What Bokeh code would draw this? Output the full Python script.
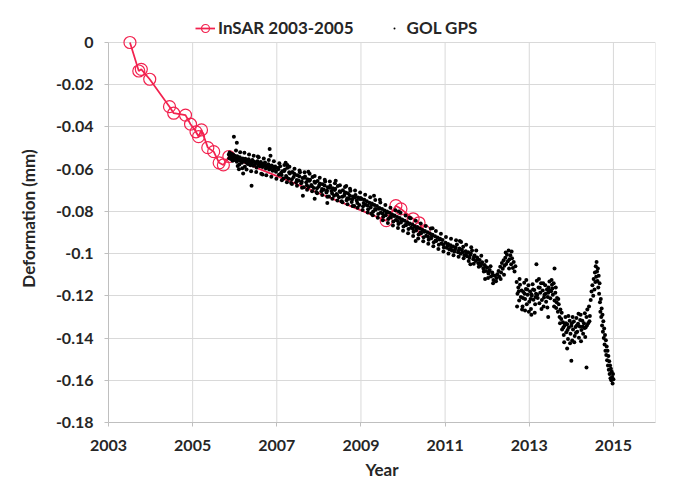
from bokeh.plotting import figure
from bokeh.models import FixedTicker, Legend, LegendItem
from bokeh.embed import file_html
from bokeh.resources import INLINE

# ---------------- data ----------------
insar_year = [2003.51, 2003.72, 2003.78, 2003.98, 2004.45, 2004.55, 2004.83, 2004.95,
              2005.08, 2005.14, 2005.21, 2005.36, 2005.50, 2005.63, 2005.73, 2005.86,
              2009.60, 2009.83, 2009.95, 2010.24, 2010.38, 2010.50]
insar_def = [0.0, -0.0135, -0.0127, -0.0174, -0.0304, -0.0335, -0.0344, -0.0387,
             -0.0423, -0.0446, -0.0414, -0.0498, -0.0517, -0.0570, -0.0580, -0.0540,
             -0.0844, -0.0773, -0.0788, -0.0835, -0.0854, -0.0892]

gps_2006 = [
    (2005.86, -0.0530), (2005.87, -0.0548), (2005.88, -0.0521), (2005.89, -0.0541), (2005.90, -0.0535),
    (2005.91, -0.0552), (2005.92, -0.0527), (2005.93, -0.0545), (2005.94, -0.0538), (2005.95, -0.0560),
    (2005.96, -0.0531), (2005.97, -0.0549), (2005.98, -0.0542), (2005.99, -0.0556), (2006.00, -0.0536),
    (2006.02, -0.0551), (2006.03, -0.0544), (2006.05, -0.0565), (2006.06, -0.0539), (2006.08, -0.0557),
    (2006.09, -0.0548), (2006.11, -0.0578), (2006.12, -0.0543), (2006.14, -0.0561), (2006.15, -0.0552),
    (2006.17, -0.0570), (2006.19, -0.0549), (2006.20, -0.0563), (2006.22, -0.0556), (2006.24, -0.0588),
    (2006.25, -0.0551), (2006.27, -0.0569), (2006.29, -0.0560), (2006.31, -0.0575), (2006.33, -0.0553),
    (2006.35, -0.0566), (2006.37, -0.0581), (2006.38, -0.0562), (2006.40, -0.0571), (2006.42, -0.0556),
    (2006.44, -0.0584), (2006.46, -0.0565), (2006.48, -0.0577), (2006.50, -0.0568), (2006.52, -0.0592),
    (2006.54, -0.0562), (2006.56, -0.0580), (2006.58, -0.0573), (2006.60, -0.0586), (2006.62, -0.0566),
    (2006.64, -0.0579), (2006.66, -0.0590), (2006.68, -0.0574), (2006.70, -0.0584), (2006.72, -0.0569),
    (2006.74, -0.0597), (2006.76, -0.0581), (2006.78, -0.0590), (2006.80, -0.0577), (2006.82, -0.0602),
    (2006.84, -0.0586), (2006.86, -0.0595), (2006.88, -0.0583), (2006.90, -0.0608), (2006.92, -0.0590),
    (2006.94, -0.0599), (2006.96, -0.0587), (2006.98, -0.0612),
    (2005.98, -0.0447), (2006.05, -0.0475), (2006.83, -0.0504), (2006.85, -0.0536), (2006.40, -0.0679),
    (2006.10, -0.0600), (2006.20, -0.0620), (2006.55, -0.0540), (2006.66, -0.0625),
    (2006.03, -0.0512), (2006.07, -0.0585), (2006.13, -0.0520), (2006.18, -0.0596), (2006.23, -0.0522),
    (2006.28, -0.0601), (2006.34, -0.0530), (2006.39, -0.0610), (2006.45, -0.0536), (2006.51, -0.0614),
    (2006.57, -0.0543), (2006.63, -0.0622), (2006.69, -0.0549), (2006.75, -0.0629), (2006.81, -0.0557),
    (2006.87, -0.0636), (2006.93, -0.0563), (2006.99, -0.0645),
]

gps_2008 = [
    (2007.02, -0.0594), (2007.05, -0.0627), (2007.08, -0.0586), (2007.10, -0.0618), (2007.13, -0.0610),
    (2007.16, -0.0644), (2007.19, -0.0603), (2007.22, -0.0632), (2007.25, -0.0593), (2007.28, -0.0645),
    (2007.31, -0.0620), (2007.34, -0.0665), (2007.37, -0.0613), (2007.40, -0.0637), (2007.43, -0.0626),
    (2007.46, -0.0662), (2007.49, -0.0629), (2007.52, -0.0654), (2007.55, -0.0615), (2007.58, -0.0667),
    (2007.61, -0.0642), (2007.64, -0.0686), (2007.67, -0.0635), (2007.70, -0.0662), (2007.73, -0.0648),
    (2007.76, -0.0684), (2007.79, -0.0650), (2007.82, -0.0675), (2007.85, -0.0637), (2007.88, -0.0689),
    (2007.91, -0.0664), (2007.94, -0.0708), (2007.97, -0.0656), (2008.00, -0.0682), (2008.03, -0.0669),
    (2008.06, -0.0705), (2008.09, -0.0672), (2008.12, -0.0697), (2008.15, -0.0658), (2008.18, -0.0711),
    (2008.21, -0.0686), (2008.24, -0.0730), (2008.27, -0.0679), (2008.30, -0.0704), (2008.33, -0.0690),
    (2008.36, -0.0726), (2008.39, -0.0693), (2008.42, -0.0718), (2008.45, -0.0680), (2008.48, -0.0733),
    (2008.51, -0.0708), (2008.54, -0.0752), (2008.57, -0.0700), (2008.60, -0.0726), (2008.63, -0.0711),
    (2008.66, -0.0747), (2008.69, -0.0714), (2008.72, -0.0740), (2008.75, -0.0702), (2008.78, -0.0755),
    (2008.81, -0.0730), (2008.84, -0.0774), (2008.87, -0.0722), (2008.90, -0.0748), (2008.93, -0.0734),
    (2008.96, -0.0770), (2008.99, -0.0737),
    (2007.035, -0.0600), (2007.115, -0.0628), (2007.175, -0.0609), (2007.235, -0.0638), (2007.295, -0.0615),
    (2007.355, -0.0648), (2007.415, -0.0622), (2007.475, -0.0651), (2007.535, -0.0634), (2007.595, -0.0660),
    (2007.655, -0.0641), (2007.715, -0.0676), (2007.775, -0.0655), (2007.835, -0.0681), (2007.895, -0.0660),
    (2007.955, -0.0690), (2008.015, -0.0671), (2008.075, -0.0694), (2008.135, -0.0677), (2008.195, -0.0702),
    (2008.255, -0.0688), (2008.315, -0.0715), (2008.375, -0.0699), (2008.435, -0.0722), (2008.495, -0.0705),
    (2008.555, -0.0731), (2008.615, -0.0716), (2008.675, -0.0738), (2008.735, -0.0725), (2008.795, -0.0742),
    (2008.855, -0.0733), (2008.915, -0.0760), (2008.975, -0.0741),
    (2007.21, -0.0570), (2007.25, -0.0580), (2007.62, -0.0726), (2007.75, -0.0612), (2008.40, -0.0655),
    (2008.20, -0.0760), (2007.90, -0.0740), (2008.65, -0.0680),
    (2007.06, -0.0572), (2007.12, -0.0653), (2007.18, -0.0580), (2007.24, -0.0662), (2007.30, -0.0589),
    (2007.36, -0.0670), (2007.42, -0.0598), (2007.48, -0.0679), (2007.54, -0.0606), (2007.60, -0.0688),
    (2007.66, -0.0615), (2007.72, -0.0697), (2007.78, -0.0622), (2007.84, -0.0705), (2007.90, -0.0632),
    (2007.96, -0.0714), (2008.02, -0.0641), (2008.08, -0.0722), (2008.14, -0.0650), (2008.20, -0.0731),
    (2008.26, -0.0658), (2008.32, -0.0740), (2008.38, -0.0667), (2008.44, -0.0749), (2008.50, -0.0676),
    (2008.56, -0.0757), (2008.62, -0.0684), (2008.68, -0.0766), (2008.74, -0.0693), (2008.80, -0.0775),
    (2008.86, -0.0701), (2008.92, -0.0783), (2008.98, -0.0710),
]

gps_2010 = [
    (2009.02, -0.0741), (2009.05, -0.0776), (2009.08, -0.0745), (2009.11, -0.0768), (2009.14, -0.0752),
    (2009.17, -0.0790), (2009.20, -0.0759), (2009.23, -0.0781), (2009.26, -0.0763), (2009.29, -0.0801),
    (2009.32, -0.0770), (2009.35, -0.0792), (2009.38, -0.0775), (2009.41, -0.0812), (2009.44, -0.0784),
    (2009.47, -0.0806), (2009.50, -0.0789), (2009.53, -0.0825), (2009.56, -0.0796), (2009.59, -0.0818),
    (2009.62, -0.0800), (2009.65, -0.0836), (2009.68, -0.0807), (2009.71, -0.0829), (2009.74, -0.0815),
    (2009.77, -0.0848), (2009.80, -0.0820), (2009.83, -0.0841), (2009.86, -0.0826), (2009.89, -0.0860),
    (2009.92, -0.0831), (2009.95, -0.0853), (2009.98, -0.0839), (2010.01, -0.0872), (2010.04, -0.0844),
    (2010.07, -0.0866), (2010.10, -0.0851), (2010.13, -0.0884), (2010.16, -0.0857), (2010.19, -0.0878),
    (2010.22, -0.0862), (2010.25, -0.0897), (2010.28, -0.0870), (2010.31, -0.0890), (2010.34, -0.0874),
    (2010.37, -0.0909), (2010.40, -0.0881), (2010.43, -0.0903), (2010.46, -0.0888), (2010.49, -0.0922),
    (2010.52, -0.0893), (2010.55, -0.0915), (2010.58, -0.0899), (2010.61, -0.0934), (2010.64, -0.0905),
    (2010.67, -0.0927), (2010.70, -0.0911), (2010.73, -0.0946), (2010.76, -0.0918), (2010.79, -0.0940),
    (2010.82, -0.0924), (2010.85, -0.0958), (2010.88, -0.0930), (2010.91, -0.0952), (2010.94, -0.0936),
    (2010.97, -0.0971),
    (2009.065, -0.0760), (2009.155, -0.0772), (2009.245, -0.0770), (2009.335, -0.0789), (2009.425, -0.0788),
    (2009.515, -0.0810), (2009.605, -0.0805), (2009.695, -0.0826), (2009.785, -0.0822), (2009.875, -0.0845),
    (2009.965, -0.0842), (2010.055, -0.0865), (2010.145, -0.0860), (2010.235, -0.0882), (2010.325, -0.0879),
    (2010.415, -0.0900), (2010.505, -0.0897), (2010.595, -0.0920), (2010.685, -0.0915), (2010.775, -0.0938),
    (2010.865, -0.0933), (2010.955, -0.0957),
    (2009.45, -0.0745), (2009.90, -0.0800), (2010.30, -0.0940), (2010.70, -0.0880), (2010.15, -0.0830),
    (2009.25, -0.0810), (2009.31, -0.0726),
    (2009.04, -0.0793), (2009.10, -0.0721), (2009.16, -0.0805), (2009.22, -0.0733), (2009.28, -0.0818),
    (2009.34, -0.0746), (2009.40, -0.0830), (2009.46, -0.0758), (2009.52, -0.0842), (2009.58, -0.0770),
    (2009.64, -0.0855), (2009.70, -0.0783), (2009.76, -0.0867), (2009.82, -0.0795), (2009.88, -0.0879),
    (2009.94, -0.0807), (2010.00, -0.0892), (2010.06, -0.0820), (2010.12, -0.0904), (2010.18, -0.0832),
    (2010.24, -0.0916), (2010.30, -0.0844), (2010.36, -0.0928), (2010.42, -0.0857), (2010.48, -0.0941),
    (2010.54, -0.0869), (2010.60, -0.0953), (2010.66, -0.0881), (2010.72, -0.0965), (2010.78, -0.0893),
    (2010.84, -0.0978), (2010.90, -0.0906), (2010.96, -0.0990),
]

gps_2012 = [
    (2011.01, -0.0948), (2011.04, -0.0972), (2011.07, -0.0955), (2011.10, -0.0979), (2011.13, -0.0960),
    (2011.16, -0.0985), (2011.19, -0.0966), (2011.22, -0.0990), (2011.25, -0.0971), (2011.28, -0.0957),
    (2011.31, -0.0994), (2011.34, -0.0976), (2011.37, -0.1001), (2011.40, -0.0982), (2011.43, -0.0968),
    (2011.46, -0.1008), (2011.49, -0.0989), (2011.52, -0.1012), (2011.55, -0.0993), (2011.58, -0.1020),
    (2011.61, -0.1000), (2011.64, -0.0985), (2011.67, -0.1027), (2011.70, -0.1009), (2011.73, -0.1035),
    (2011.76, -0.1018), (2011.79, -0.1046), (2011.82, -0.1030), (2011.85, -0.1058), (2011.88, -0.1041),
    (2011.91, -0.1070), (2011.94, -0.1054), (2011.97, -0.1082), (2012.00, -0.1066), (2012.03, -0.1094),
    (2012.06, -0.1078), (2012.09, -0.1108), (2012.12, -0.1090), (2012.15, -0.1125), (2012.18, -0.1105),
    (2012.21, -0.1131), (2012.24, -0.1098), (2012.27, -0.1082), (2012.29, -0.1110), (2012.31, -0.1062),
    (2012.33, -0.1089), (2012.35, -0.1045), (2012.37, -0.1072), (2012.39, -0.1031), (2012.41, -0.1058),
    (2012.43, -0.1020), (2012.45, -0.1049), (2012.47, -0.1005), (2012.49, -0.1036), (2012.51, -0.0985),
    (2012.53, -0.1027), (2012.55, -0.1008), (2012.57, -0.1050), (2012.59, -0.1022), (2012.61, -0.1068),
    (2012.63, -0.1040), (2012.65, -0.1085), (2012.67, -0.1060),
    (2011.055, -0.0963), (2011.145, -0.0970), (2011.235, -0.0982), (2011.325, -0.0985), (2011.415, -0.0993),
    (2011.505, -0.0998), (2011.595, -0.1007), (2011.685, -0.1016), (2011.775, -0.1028), (2011.865, -0.1048),
    (2011.955, -0.1062), (2012.045, -0.1083), (2012.135, -0.1101), (2012.225, -0.1115),
    (2011.35, -0.0940), (2011.60, -0.1050), (2011.95, -0.1120), (2012.40, -0.1100),
    (2011.02, -0.0921), (2011.08, -0.1000), (2011.14, -0.0930), (2011.20, -0.1008), (2011.26, -0.0937),
    (2011.32, -0.1015), (2011.38, -0.0945), (2011.44, -0.1022), (2011.50, -0.0958), (2011.56, -0.1035),
    (2011.62, -0.0970), (2011.68, -0.1048), (2011.74, -0.0985), (2011.80, -0.1062), (2011.86, -0.1010),
    (2011.92, -0.1085), (2011.98, -0.1035), (2012.02, -0.1115), (2012.08, -0.1060), (2012.14, -0.1140),
    (2012.32, -0.1120), (2012.44, -0.0995), (2012.52, -0.1070), (2012.58, -0.0990),
]

gps_2013 = [
    (2012.70, -0.1135), (2012.72, -0.1190), (2012.74, -0.1160), (2012.76, -0.1222), (2012.78, -0.1148),
    (2012.80, -0.1205), (2012.82, -0.1175), (2012.84, -0.1250), (2012.86, -0.1182), (2012.88, -0.1138),
    (2012.90, -0.1215), (2012.92, -0.1168), (2012.94, -0.1240), (2012.96, -0.1195), (2012.98, -0.1150),
    (2013.00, -0.1228), (2013.02, -0.1180), (2013.04, -0.1262), (2013.06, -0.1200), (2013.08, -0.1145),
    (2013.10, -0.1218), (2013.12, -0.1172), (2013.14, -0.1240), (2013.16, -0.1190), (2013.18, -0.1128),
    (2013.20, -0.1210), (2013.22, -0.1160), (2013.24, -0.1235), (2013.26, -0.1185), (2013.28, -0.1140),
    (2013.30, -0.1220), (2013.32, -0.1175), (2013.34, -0.1250), (2013.36, -0.1195), (2013.38, -0.1150),
    (2013.40, -0.1228), (2013.42, -0.1170), (2013.44, -0.1205), (2013.46, -0.1160), (2013.48, -0.1132),
    (2013.50, -0.1212), (2013.52, -0.1178), (2013.54, -0.1148), (2013.56, -0.1195), (2013.58, -0.1140),
    (2013.60, -0.1222), (2013.62, -0.1185), (2013.64, -0.1258), (2013.66, -0.1210), (2013.68, -0.1275),
    (2013.70, -0.1240), (2013.72, -0.1300), (2013.74, -0.1265),
    (2012.75, -0.1178), (2012.85, -0.1210), (2012.95, -0.1170), (2013.05, -0.1192), (2013.15, -0.1205),
    (2013.25, -0.1162), (2013.35, -0.1208), (2013.45, -0.1185), (2013.55, -0.1165), (2013.65, -0.1230),
    (2013.17, -0.1050), (2013.05, -0.1290), (2013.45, -0.1300), (2012.90, -0.1270), (2013.60, -0.1070),
    (2012.71, -0.1250), (2012.77, -0.1120), (2012.83, -0.1265), (2012.89, -0.1190), (2012.93, -0.1125),
    (2012.99, -0.1275), (2013.03, -0.1215), (2013.09, -0.1170), (2013.13, -0.1280), (2013.19, -0.1195),
    (2013.23, -0.1120), (2013.29, -0.1262), (2013.33, -0.1140), (2013.39, -0.1190), (2013.43, -0.1255),
    (2013.49, -0.1175), (2013.53, -0.1125), (2013.59, -0.1250), (2013.63, -0.1160), (2013.69, -0.1215),
    (2013.73, -0.1330),
]

gps_2014 = [
    (2013.76, -0.1310), (2013.78, -0.1360), (2013.80, -0.1325), (2013.82, -0.1385), (2013.84, -0.1340),
    (2013.86, -0.1300), (2013.88, -0.1372), (2013.90, -0.1335), (2013.92, -0.1405), (2013.94, -0.1350),
    (2013.96, -0.1318), (2013.98, -0.1380), (2014.00, -0.1342), (2014.02, -0.1412), (2014.04, -0.1360),
    (2014.06, -0.1322), (2014.08, -0.1390), (2014.10, -0.1348), (2014.12, -0.1305), (2014.14, -0.1370),
    (2014.16, -0.1332), (2014.18, -0.1398), (2014.20, -0.1345), (2014.22, -0.1290), (2014.24, -0.1362),
    (2014.26, -0.1318), (2014.28, -0.1380), (2014.30, -0.1330), (2014.32, -0.1282), (2014.34, -0.1350),
    (2014.36, -0.1300), (2014.38, -0.1265), (2014.40, -0.1330), (2014.42, -0.1250), (2014.44, -0.1295),
    (2013.81, -0.1350), (2013.91, -0.1362), (2014.01, -0.1330), (2014.11, -0.1375), (2014.21, -0.1315),
    (2014.31, -0.1352), (2014.00, -0.1507), (2014.36, -0.1540), (2013.90, -0.1450),
    (2013.77, -0.1280), (2013.83, -0.1420), (2013.87, -0.1330), (2013.93, -0.1295), (2013.97, -0.1425),
    (2014.03, -0.1300), (2014.07, -0.1420), (2014.13, -0.1340), (2014.17, -0.1285), (2014.23, -0.1415),
    (2014.27, -0.1345), (2014.33, -0.1395), (2014.37, -0.1340), (2014.43, -0.1320),
    (2014.46, -0.1220), (2014.48, -0.1180), (2014.50, -0.1150), (2014.52, -0.1200), (2014.53, -0.1120),
    (2014.55, -0.1170), (2014.56, -0.1090), (2014.57, -0.1135), (2014.58, -0.1060), (2014.59, -0.1110),
    (2014.60, -0.1040), (2014.61, -0.1085), (2014.62, -0.1130), (2014.63, -0.1070), (2014.64, -0.1160),
    (2014.65, -0.1105), (2014.66, -0.1190), (2014.67, -0.1140),
    (2014.68, -0.1230), (2014.69, -0.1275), (2014.70, -0.1215), (2014.71, -0.1300), (2014.72, -0.1260),
    (2014.73, -0.1340), (2014.74, -0.1290), (2014.75, -0.1370), (2014.76, -0.1320), (2014.77, -0.1400),
    (2014.78, -0.1355), (2014.79, -0.1430), (2014.80, -0.1385), (2014.81, -0.1460), (2014.82, -0.1410),
    (2014.83, -0.1480), (2014.84, -0.1440), (2014.85, -0.1505), (2014.86, -0.1460), (2014.87, -0.1530),
    (2014.88, -0.1485), (2014.89, -0.1550), (2014.90, -0.1510), (2014.91, -0.1570), (2014.92, -0.1530),
    (2014.93, -0.1590), (2014.94, -0.1545), (2014.95, -0.1600), (2014.96, -0.1560), (2014.97, -0.1585),
    (2014.98, -0.1615), (2014.99, -0.1570), (2015.00, -0.1595),
]

x_ticks = [2003, 2005, 2007, 2009, 2011, 2013, 2015]
x_labels = ["2003", "2005", "2007", "2009", "2011", "2013", "2015"]
x_end = 2016
y_ticks = [0, -0.02, -0.04, -0.06, -0.08, -0.1, -0.12, -0.14, -0.16, -0.18]
y_labels = ["0", "-0.02", "-0.04", "-0.06", "-0.08", "-0.1", "-0.12", "-0.14", "-0.16", "-0.18"]

legend_labels = ["InSAR 2003-2005", "GOL GPS"]
x_title = "Year"
y_title = "Deformation (mm)"

# ---------------- build ----------------
gps_all = gps_2006 + gps_2008 + gps_2010 + gps_2012 + gps_2013 + gps_2014
gps_year = [t for t, _ in gps_all]
gps_def = [d for _, d in gps_all]

RED = "#F2224F"
TXT = "#262626"
GRID = "#d9d9d9"
FONT = "Lato"

y_top, y_bot = y_ticks[0], y_ticks[-1]
# frame: 547 px wide, 408 px tall; the extra 28 px above 0 hold the legend
legend_room = 28 * (y_top - y_bot) / 380.0

p = figure(width=680, height=482, x_range=(x_ticks[0], x_end),
           y_range=(y_bot, y_top + legend_room),
           output_backend="svg", toolbar_location=None,
           min_border_left=108, min_border_right=25, min_border_top=14, min_border_bottom=60,
           background_fill_color="white", border_fill_color="white")

p.outline_line_color = None

p.xaxis.ticker = FixedTicker(ticks=x_ticks, minor_ticks=[])
p.yaxis.ticker = FixedTicker(ticks=y_ticks, minor_ticks=[])
p.xaxis.major_label_overrides = {t: l for t, l in zip(x_ticks, x_labels)}
p.yaxis.major_label_overrides = {t: l for t, l in zip(y_ticks, y_labels)}
p.yaxis.bounds = (y_bot, y_top)
p.xgrid.visible = False
p.ygrid.ticker = FixedTicker(ticks=y_ticks, minor_ticks=[])
p.ygrid.grid_line_color = GRID
p.ygrid.grid_line_width = 1

# vertical grid lines + right plot-area border, only between -0.18 and 0
vx = x_ticks[1:] + [x_end]
p.segment(x0=vx, y0=[y_bot] * len(vx), x1=vx, y1=[y_top] * len(vx),
          line_color=GRID, line_width=1)

for ax in (p.xaxis, p.yaxis):
    ax.axis_line_color = "#bfbfbf"
    ax.major_tick_line_color = "#bfbfbf"
    ax.major_tick_in = 0
    ax.major_tick_out = 4
    ax.minor_tick_line_color = None
    ax.major_label_text_font = FONT
    ax.major_label_text_font_style = "bold"
    ax.major_label_text_font_size = "16px"
    ax.major_label_text_color = TXT
    ax.major_label_standoff = 11
    ax.axis_label_text_font = FONT
    ax.axis_label_text_font_style = "bold"
    ax.axis_label_text_font_size = "17px"
    ax.axis_label_text_color = TXT

p.xaxis.major_label_standoff = 13
p.xaxis.axis_label = x_title
p.yaxis.axis_label = y_title
p.xaxis.axis_label_standoff = 5
p.yaxis.axis_label_standoff = 14

r_line = p.line(insar_year, insar_def, line_color=RED, line_width=1.75)
r_circ = p.scatter(insar_year, insar_def, marker="circle", size=12,
                   fill_color=None, line_color=RED, line_width=1.2)
# "dot" marker: drawn dot diameter is size/4 -> ~4 px points, tiny dot in the legend
r_gps = p.scatter(gps_year, gps_def, marker="dot", size=16,
                  line_color="black", fill_color="black", line_width=1)

legend = Legend(items=[LegendItem(label=legend_labels[0], renderers=[r_line, r_circ]),
                       LegendItem(label=legend_labels[1], renderers=[r_gps])],
                orientation="horizontal", location=(85, 382))
legend.label_text_font = FONT
legend.label_text_font_style = "bold"
legend.label_text_font_size = "17px"
legend.label_text_color = TXT
legend.border_line_alpha = 0
legend.background_fill_alpha = 0
legend.padding = 2
legend.margin = 0
legend.spacing = 30
legend.glyph_width = 20
legend.glyph_height = 20
legend.label_standoff = 3
p.add_layout(legend, "center")

open("out.html", "w").write(file_html(p, INLINE))
